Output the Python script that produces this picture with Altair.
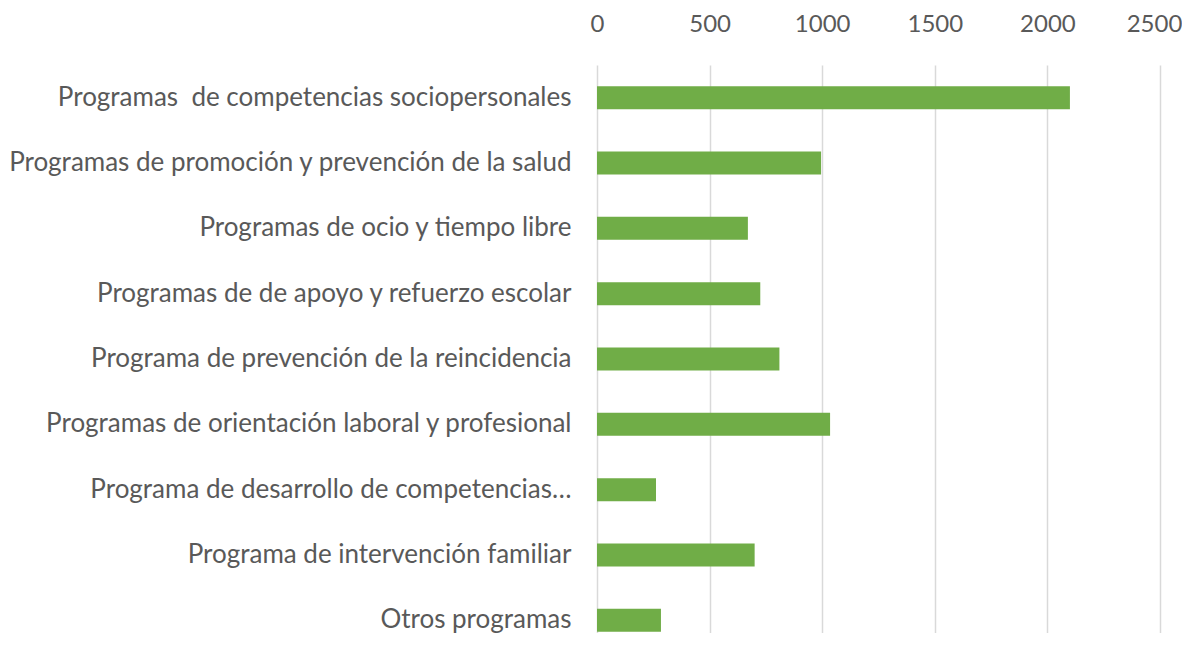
import altair as alt
import pandas as pd

categories = [
    "Programas\u00a0 de competencias sociopersonales",
    "Programas de promoción y prevención de la salud\u00a0",
    "Programas de ocio y tiempo libre",
    "Programas de de apoyo y refuerzo escolar\u00a0",
    "Programa de prevención de la reincidencia",
    "Programas de orientación laboral y profesional",
    "Programa de desarrollo de competencias…",
    "Programa de intervención familiar",
    "Otros programas\u00a0",
]
values = [2100, 995, 670, 725, 810, 1035, 262, 700, 284]
x_ticks = [0, 500, 1000, 1500, 2000, 2500]

df = pd.DataFrame({"programa": categories, "valor": values})

FONT = "Lato"
TEXT = "#595959"

chart = (
    alt.Chart(df)
    .mark_bar(color="#70AD47", size=23)
    .encode(
        x=alt.X(
            "valor:Q",
            scale=alt.Scale(domain=[0, 2500], nice=False),
            axis=alt.Axis(
                orient="top", values=x_ticks, title=None, domain=False,
                ticks=False, tickSize=0, labelPadding=29, labelFontSize=24,
                labelColor=TEXT, labelFont=FONT, grid=True, labelFlush=False,
                labelOffset=alt.expr("datum.value == 2500 ? -6 : 0"),
                gridColor="#D9D9D9", gridWidth=1.5, format="d",
            ),
        ),
        y=alt.Y(
            "programa:N", sort=categories,
            scale=alt.Scale(range=[0, 588], paddingInner=0, paddingOuter=0),
            axis=alt.Axis(
                title=None, domain=False, ticks=False, tickSize=0,
                labelPadding=26, labelFontSize=26, labelColor=TEXT,
                labelFont=FONT, labelLimit=0, grid=False,
            ),
        ),
    )
    .properties(
        width=563, height=568,
        autosize=alt.AutoSizeParams(type="none"),
        padding={"left": 589, "top": 57, "right": 22, "bottom": 0},
    )
    .configure_view(stroke=None)
)

chart.save("out.html", embed_options={"renderer": "svg", "actions": False})
